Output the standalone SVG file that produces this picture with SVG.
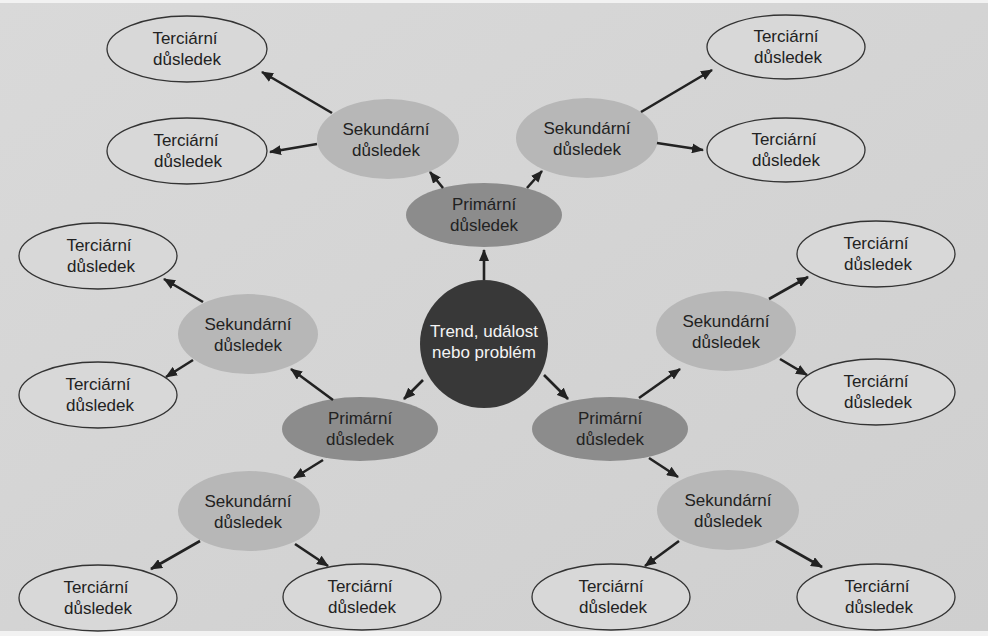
<svg xmlns="http://www.w3.org/2000/svg" width="988" height="636" viewBox="0 0 988 636">
<defs>
<marker id="ah" viewBox="0 0 12 10" refX="11" refY="5" markerWidth="12" markerHeight="10" markerUnits="userSpaceOnUse" orient="auto">
<path d="M0,0 L12,5 L0,10 Z" fill="#222"/>
</marker>
<linearGradient id="bg" x1="0" y1="0" x2="1" y2="1">
<stop offset="0" stop-color="#d9d9d9"/>
<stop offset="1" stop-color="#cfcfcf"/>
</linearGradient>
</defs>
<style>
.t{font-family:"Liberation Sans","Open Sans",sans-serif;font-size:17px;fill:#222;text-anchor:middle}
.w{fill:#f4f4f4}
.ter{fill:#d8d8d8;stroke:#333;stroke-width:1.3}
.sec{fill:#b7b7b7}
.pri{fill:#8c8c8c}
.ctr{fill:#383838}
.c line{stroke:#222;stroke-width:2.6;marker-end:url(#ah)}
</style>
<rect width="988" height="636" fill="#f2f2f2"/>
<rect x="0" y="3" width="988" height="628" fill="url(#bg)"/>

<g id="center"><circle class="ctr" cx="484" cy="344" r="64"/><text class="t w" x="484" y="337">Trend, událost</text><text class="t w" x="484" y="358">nebo problém</text></g>

<g id="p-top"><ellipse class="pri" cx="484" cy="215" rx="78" ry="32"/><text class="t" x="484" y="210">Primární</text><text class="t" x="484" y="231">důsledek</text></g>
<g id="p-left"><ellipse class="pri" cx="360" cy="429" rx="78" ry="32"/><text class="t" x="360" y="424">Primární</text><text class="t" x="360" y="445">důsledek</text></g>
<g id="p-right"><ellipse class="pri" cx="610" cy="429" rx="78" ry="32"/><text class="t" x="610" y="424">Primární</text><text class="t" x="610" y="445">důsledek</text></g>

<g id="s-tl"><ellipse class="sec" cx="388" cy="139" rx="71" ry="40"/><text class="t" x="386" y="135">Sekundární</text><text class="t" x="386" y="156">důsledek</text></g>
<g id="s-tr"><ellipse class="sec" cx="587" cy="138" rx="71" ry="40"/><text class="t" x="587" y="134">Sekundární</text><text class="t" x="587" y="155">důsledek</text></g>
<g id="s-ml"><ellipse class="sec" cx="248" cy="334" rx="70" ry="40"/><text class="t" x="248" y="330">Sekundární</text><text class="t" x="248" y="351">důsledek</text></g>
<g id="s-mr"><ellipse class="sec" cx="726" cy="331" rx="70" ry="40"/><text class="t" x="726" y="327">Sekundární</text><text class="t" x="726" y="348">důsledek</text></g>
<g id="s-bl"><ellipse class="sec" cx="249" cy="511" rx="71" ry="40"/><text class="t" x="248" y="507">Sekundární</text><text class="t" x="248" y="528">důsledek</text></g>
<g id="s-br"><ellipse class="sec" cx="728" cy="510" rx="71" ry="40"/><text class="t" x="728" y="506">Sekundární</text><text class="t" x="728" y="527">důsledek</text></g>

<g id="t1"><ellipse class="ter" cx="187" cy="49" rx="80" ry="33"/><text class="t" x="185" y="44">Terciární</text><text class="t" x="187" y="65">důsledek</text></g>
<g id="t2"><ellipse class="ter" cx="187" cy="151" rx="80" ry="33"/><text class="t" x="186" y="146">Terciární</text><text class="t" x="188" y="167">důsledek</text></g>
<g id="t3"><ellipse class="ter" cx="98" cy="256" rx="79" ry="33"/><text class="t" x="99" y="251">Terciární</text><text class="t" x="101" y="272">důsledek</text></g>
<g id="t4"><ellipse class="ter" cx="98" cy="395" rx="79" ry="33"/><text class="t" x="98" y="390">Terciární</text><text class="t" x="100" y="411">důsledek</text></g>
<g id="t5"><ellipse class="ter" cx="98" cy="598" rx="79" ry="33"/><text class="t" x="96" y="593">Terciární</text><text class="t" x="98" y="614">důsledek</text></g>
<g id="t6"><ellipse class="ter" cx="362" cy="597" rx="79" ry="33"/><text class="t" x="360" y="592">Terciární</text><text class="t" x="362" y="613">důsledek</text></g>
<g id="t7"><ellipse class="ter" cx="611" cy="597" rx="79" ry="33"/><text class="t" x="611" y="592">Terciární</text><text class="t" x="613" y="613">důsledek</text></g>
<g id="t8"><ellipse class="ter" cx="876" cy="597" rx="79" ry="33"/><text class="t" x="877" y="592">Terciární</text><text class="t" x="879" y="613">důsledek</text></g>
<g id="t9"><ellipse class="ter" cx="876" cy="392" rx="79" ry="33"/><text class="t" x="876" y="387">Terciární</text><text class="t" x="878" y="408">důsledek</text></g>
<g id="t10"><ellipse class="ter" cx="876" cy="254" rx="79" ry="33"/><text class="t" x="876" y="249">Terciární</text><text class="t" x="878" y="270">důsledek</text></g>
<g id="t11"><ellipse class="ter" cx="786" cy="150" rx="79" ry="32"/><text class="t" x="784" y="145">Terciární</text><text class="t" x="786" y="166">důsledek</text></g>
<g id="t12"><ellipse class="ter" cx="786" cy="47" rx="79" ry="32"/><text class="t" x="786" y="42">Terciární</text><text class="t" x="788" y="63">důsledek</text></g>

<g id="connectors" class="c">
<line x1="484" y1="280" x2="484" y2="250"/>
<line x1="443" y1="188" x2="430" y2="172"/>
<line x1="527" y1="188" x2="542" y2="171"/>
<line x1="332" y1="113" x2="262" y2="72"/>
<line x1="317" y1="144" x2="270" y2="152"/>
<line x1="641" y1="112" x2="712" y2="70"/>
<line x1="657" y1="143" x2="703" y2="150"/>
<line x1="423" y1="380" x2="404" y2="399"/>
<line x1="544" y1="375" x2="568" y2="399"/>
<line x1="333" y1="400" x2="291" y2="369"/>
<line x1="323" y1="460" x2="294" y2="478"/>
<line x1="639" y1="398" x2="680" y2="369"/>
<line x1="649" y1="458" x2="678" y2="477"/>
<line x1="203" y1="302" x2="164" y2="279"/>
<line x1="193" y1="360" x2="166" y2="377"/>
<line x1="769" y1="299" x2="808" y2="277"/>
<line x1="780" y1="359" x2="807" y2="375"/>
<line x1="200" y1="541" x2="151" y2="569"/>
<line x1="295" y1="544" x2="328" y2="566"/>
<line x1="679" y1="541" x2="645" y2="566"/>
<line x1="776" y1="541" x2="822" y2="567"/>
</g>
</svg>
